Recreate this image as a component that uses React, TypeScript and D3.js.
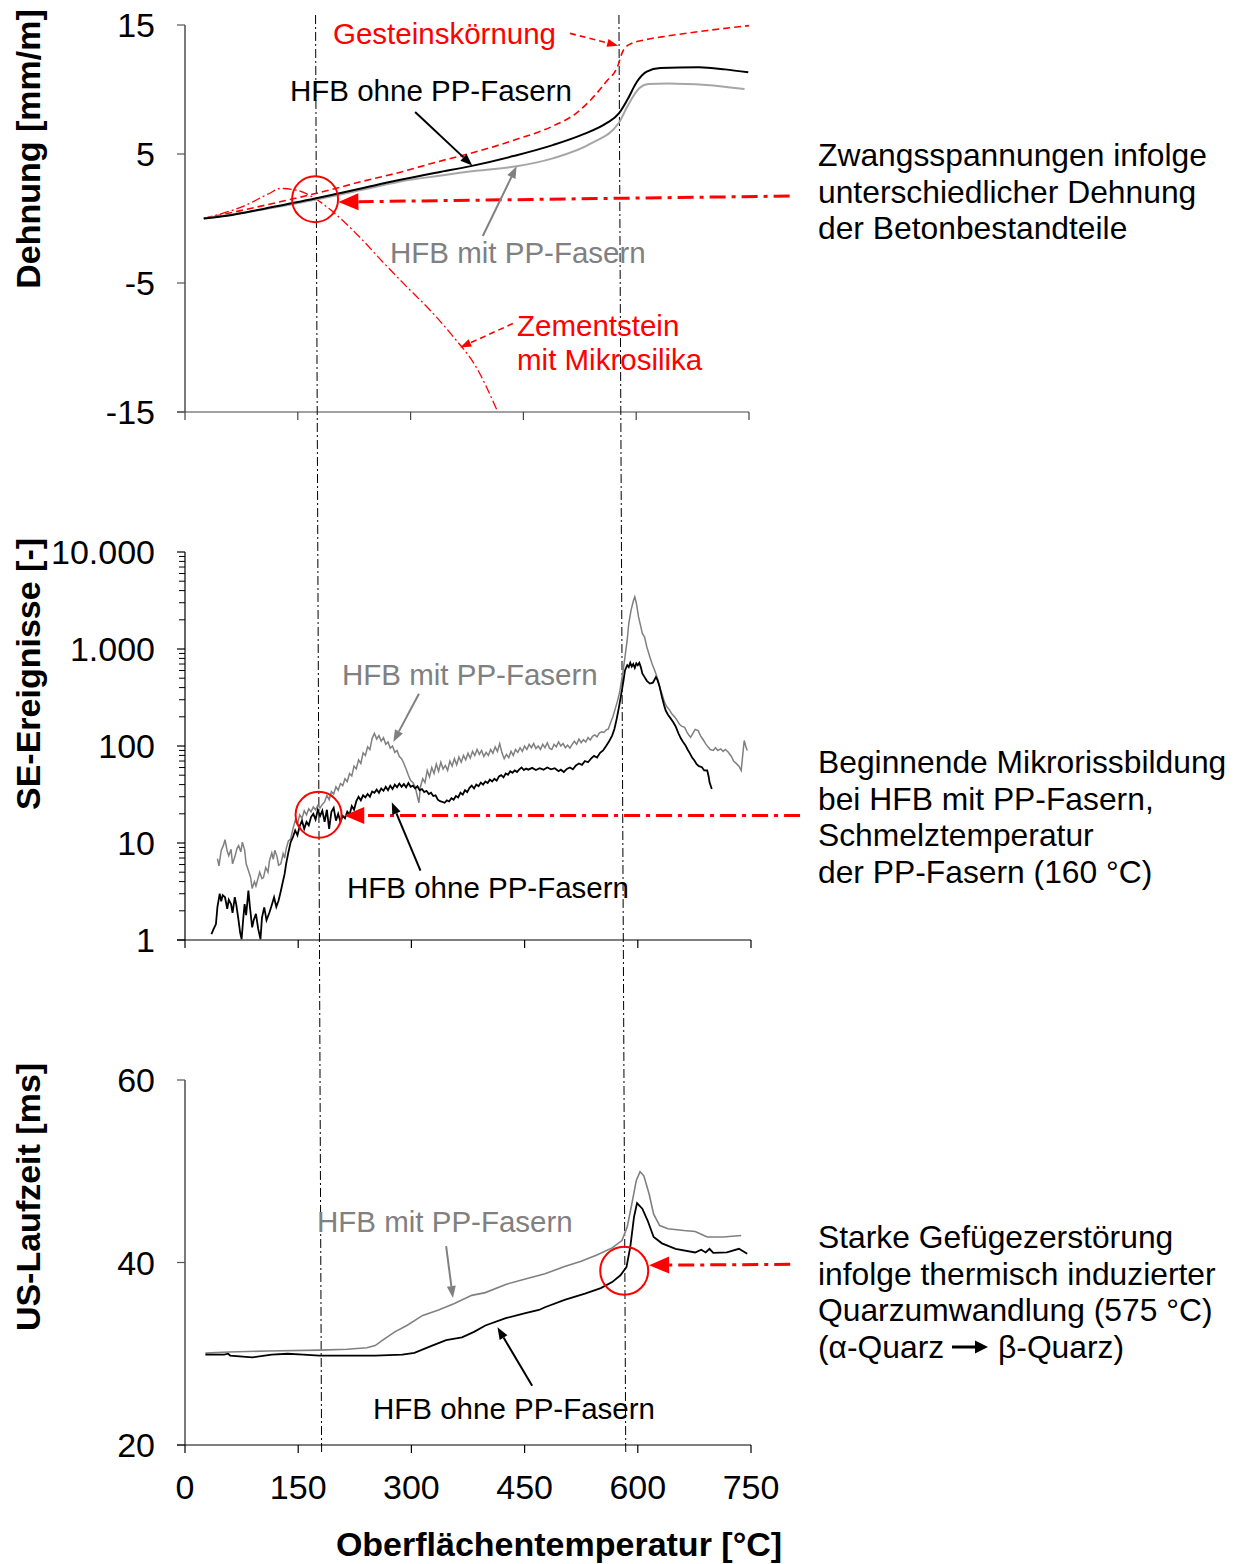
import React from "react";
import * as d3 from "d3";

type P = [number, number];

// ---------- Panel 1: Dehnung [mm/m] ----------
const dehnOhne: P[] = [
  [25, 0.0], [56, 0.21], [107, 0.78], [173, 1.55], [234, 2.33], [285, 2.98], [336, 3.57], [380, 4.06],
  [438, 4.86], [489, 5.69], [530, 6.54], [560, 7.37], [577, 8.15], [588, 9.18], [601, 10.6], [614, 11.38],
  [632, 11.66], [683, 11.72], [718, 11.56], [749, 11.33],
];
const dehnMit: P[] = [
  [25, 0.0], [107, 0.73], [173, 1.45], [234, 2.2], [285, 2.85], [336, 3.3], [387, 3.7], [441, 4.05],
  [489, 4.66], [540, 5.82], [577, 7.42], [588, 8.66], [604, 10.09], [616, 10.42], [642, 10.47], [693, 10.35],
  [744, 10.03],
];
const gesteinskoernung: P[] = [
  [25, 0.0], [81, 0.7], [132, 1.37], [183, 2.07], [234, 2.85], [285, 3.57], [336, 4.4], [387, 5.17],
  [438, 6.08], [489, 7.16], [520, 8.15], [540, 9.23], [560, 10.6], [576, 11.9], [581, 12.8], [591, 13.5],
  [611, 13.84], [642, 14.15], [693, 14.56], [750, 14.95],
];
const zementstein: P[] = [
  [25, 0.0], [81, 1.04], [112, 1.94], [127, 2.33], [148, 2.2], [173, 1.55], [194, 0.65], [214, -0.39],
  [234, -1.55], [265, -3.49], [295, -5.3], [326, -7.11], [357, -9.18], [387, -11.5], [415, -14.87],
];

// ---------- Panel 2: SE-Ereignisse [-] ----------
const seMit: P[] = [
  [43, 6.9], [45, 5.8], [48, 8.4], [51, 9.5], [53, 10.8], [56, 8.2], [58, 7.4], [61, 8.6], [63, 6.1],
  [66, 7.2], [69, 8.8], [71, 9.4], [74, 8.1], [76, 10.2], [79, 8.5], [81, 6.1], [84, 5.2], [87, 4.4],
  [89, 3.4], [92, 4.0], [94, 3.6], [96, 4.1], [99, 5.0], [102, 4.3], [104, 4.4], [107, 5.6], [110, 5.0],
  [112, 6.6], [115, 7.9], [117, 6.8], [119, 8.4], [122, 7.2], [124, 5.9], [127, 6.1], [130, 7.8], [132, 7.0],
  [134, 8.7], [137, 10.5], [140, 11], [143, 14], [146, 17], [149, 15.5], [152, 19.5], [155, 18], [158, 21.5],
  [161, 19.5], [164, 22.5], [167, 21], [170, 23.5], [173, 22], [176, 24.5], [179, 23], [182, 25], [185, 26.5],
  [188, 31], [191, 28], [194, 34], [197, 32], [200, 38], [203, 35], [206, 41], [209, 39], [212, 46],
  [215, 43], [218, 52], [221, 49], [224, 62], [227, 58], [230, 72], [233, 66], [236, 85], [239, 80],
  [242, 98], [245, 92], [248, 120], [251, 135], [254, 118], [257, 128], [260, 112], [263, 122], [266, 104],
  [269, 110], [272, 95], [275, 100], [278, 86], [281, 90], [284, 78], [287, 74], [290, 66], [293, 58],
  [296, 50], [299, 44], [302, 42], [305, 38], [308, 30], [310, 26], [312, 38], [315, 46], [318, 42],
  [321, 56], [324, 48], [327, 60], [330, 52], [333, 65], [336, 55], [339, 68], [342, 58], [345, 63],
  [348, 56], [351, 70], [354, 62], [357, 74], [360, 64], [363, 77], [366, 68], [369, 80], [372, 72],
  [375, 84], [378, 75], [381, 88], [384, 80], [387, 92], [390, 82], [393, 90], [396, 78], [399, 86],
  [402, 80], [405, 92], [408, 84], [411, 98], [414, 88], [417, 106], [420, 85], [423, 74], [426, 82],
  [429, 76], [432, 88], [435, 80], [438, 92], [441, 86], [444, 96], [447, 88], [450, 100], [453, 92],
  [456, 104], [459, 96], [462, 106], [465, 94], [468, 100], [471, 92], [474, 104], [477, 96], [480, 108],
  [483, 95], [486, 92], [489, 104], [492, 98], [495, 110], [498, 100], [501, 106], [504, 96], [507, 102],
  [510, 95], [513, 104], [516, 112], [519, 104], [522, 118], [525, 108], [528, 116], [531, 110], [534, 122],
  [537, 115], [540, 126], [543, 130], [546, 124], [549, 136], [552, 140], [555, 138], [558, 146], [561, 150],
  [564, 175], [567, 200], [570, 240], [573, 290], [576, 360], [580, 560], [583, 826], [586, 1250],
  [588, 1820], [591, 2500], [594, 3100], [596, 3440], [598, 3000], [601, 2140], [604, 1700], [606, 1450],
  [609, 1330], [612, 1050], [614, 930], [616, 826], [619, 700], [621, 640], [624, 556], [627, 470],
  [630, 380], [632, 345], [635, 290], [637, 265], [639, 251], [642, 236], [645, 215], [649, 199], [652, 185],
  [655, 168], [658, 160], [662, 156], [665, 140], [668, 128], [670, 123], [673, 135], [676, 148], [680, 144],
  [683, 128], [686, 118], [690, 105], [693, 98], [696, 92], [700, 89.9], [703, 96], [706, 90], [710, 93.4],
  [713, 88], [716, 92], [720, 86.3], [724, 78], [727, 70], [731, 65.4], [734, 62], [737, 55.9], [739, 80],
  [741, 114], [743, 100], [745, 89.9],
];
const seOhne: P[] = [
  [35, 1.15], [38, 1.3], [41, 1.46], [43, 2.2], [46, 3.0], [48, 2.5], [50, 2.9], [53, 2.76], [56, 2.1],
  [58, 2.6], [61, 2.35], [63, 1.9], [66, 2.76], [68, 2.3], [71, 1.58], [73, 1.2], [75, 1.02], [77, 1.6],
  [79, 2.35], [81, 1.8], [84, 3.23], [86, 2.2], [89, 1.35], [91, 1.6], [94, 1.86], [97, 1.3], [100, 1.02],
  [102, 1.7], [105, 2.17], [108, 1.6], [112, 1.93], [115, 2.3], [118, 2.76], [121, 2.2], [124, 2.55],
  [127, 3.2], [129, 3.78], [132, 4.8], [134, 6.1], [137, 8.0], [140, 10.2], [143, 11.5], [146, 13.5],
  [149, 12], [152, 15], [155, 17], [158, 14], [161, 16.5], [164, 15.2], [167, 18.5], [170, 20], [173, 17.5],
  [176, 22], [179, 19], [182, 21.5], [185, 16.5], [188, 22], [191, 14], [194, 21], [197, 23], [200, 17],
  [203, 20], [206, 16.5], [209, 19], [212, 18], [215, 21], [218, 19.5], [221, 24], [224, 22], [227, 27],
  [230, 30], [233, 27.5], [236, 31], [239, 29.5], [242, 32], [245, 30], [248, 34], [251, 33], [254, 35.5],
  [257, 33], [260, 36.5], [263, 34.5], [266, 38], [269, 35], [272, 39], [275, 36], [278, 40], [281, 37.5],
  [284, 41], [287, 38], [290, 40.5], [293, 37.5], [296, 41.5], [299, 38], [302, 39], [305, 36.5], [308, 38.5],
  [311, 35], [314, 36], [317, 33.5], [320, 34.5], [323, 32], [326, 33], [329, 30.5], [332, 31], [335, 28],
  [338, 27], [341, 26.5], [344, 26], [347, 27.5], [350, 26.8], [353, 29], [356, 28], [359, 30.5], [362, 29.5],
  [365, 33], [368, 31.5], [371, 35], [374, 33.5], [377, 37], [380, 39], [383, 36.5], [386, 40], [389, 38.5],
  [392, 42], [395, 40], [398, 43], [401, 41.5], [404, 45], [407, 43], [410, 46], [413, 44], [416, 48.5],
  [419, 50], [422, 47.5], [425, 52], [428, 50.5], [431, 55], [434, 53], [437, 56], [440, 54], [443, 57.5],
  [446, 60], [449, 56.5], [452, 58.5], [455, 57], [460, 59.5], [465, 56.5], [470, 59], [475, 57], [480, 60],
  [485, 57.5], [490, 59], [495, 55], [498, 57], [502, 54], [506, 58], [510, 60], [514, 57.5], [518, 63],
  [522, 66], [526, 64], [530, 70], [534, 68], [538, 74], [542, 79], [546, 76], [550, 85], [554, 90],
  [558, 100], [562, 112], [566, 128], [569, 150], [572, 190], [575, 250], [578, 340], [581, 470], [583, 601],
  [586, 680], [588, 650], [590, 720], [592, 660], [594, 700], [596, 640], [598, 710], [600, 680], [602, 720],
  [604, 651], [606, 560], [609, 513], [612, 470], [616, 440], [620, 450], [624, 513], [626, 480], [629, 405],
  [632, 320], [635, 260], [637, 232], [640, 210], [643, 195], [647, 176], [650, 160], [654, 134], [657, 120],
  [660, 110], [663, 102], [666, 92], [669, 84], [672, 76], [675, 70.8], [678, 65], [681, 62], [685, 60.5],
  [688, 56], [692, 55.9], [694, 48], [695, 42.4], [698, 36.1],
];

// ---------- Panel 3: US-Laufzeit [ms] ----------
const usMit: P[] = [
  [27, 30.07], [58, 30.2], [110, 30.3], [178, 30.4], [215, 30.5], [241, 30.66], [252, 30.9], [262, 31.5],
  [278, 32.4], [294, 33.1], [315, 34.2], [336, 34.8], [357, 35.5], [380, 36.4], [398, 36.7], [425, 37.6],
  [451, 38.2], [477, 38.76], [503, 39.56], [524, 40.1], [545, 40.8], [566, 41.6], [579, 42.4], [586, 43.9],
  [593, 46.8], [598, 49], [603, 49.96], [608, 49.5], [615, 47.5], [621, 45.3], [629, 44.05], [640, 43.7],
  [661, 43.5], [676, 43.4], [684, 43.1], [692, 42.8], [713, 42.8], [737, 42.96],
];
const usOhne: P[] = [
  [27, 29.9], [52, 29.9], [57, 30.0], [60, 29.8], [89, 29.6], [115, 29.9], [136, 30.0], [157, 29.9],
  [178, 29.8], [215, 29.8], [252, 29.8], [288, 29.9], [304, 30.1], [325, 30.8], [346, 31.5], [367, 31.8],
  [383, 32.4], [398, 33.1], [425, 33.9], [451, 34.45], [469, 34.8], [477, 35.1], [503, 35.9], [530, 36.6],
  [551, 37.2], [566, 37.85], [577, 38.6], [585, 39.5], [590, 41.7], [595, 45], [599, 46.5], [606, 45.9],
  [613, 44.6], [621, 42.8], [632, 42.1], [650, 41.5], [676, 41.1], [684, 41.4], [690, 41.1], [695, 41.5],
  [700, 41.05], [718, 41.1], [734, 41.5], [745, 40.95],
];

// ---------- ticks / labels ----------
const xTicks = [0, 150, 300, 450, 600, 750];
const y1Ticks = [15, 5, -5, -15];
const y2Ticks = [1, 10, 100, 1000, 10000];
const y2Labels = ["1", "10", "100", "1.000", "10.000"];
const y3Ticks = [20, 40, 60];

// reference lines (temperature at top / bottom of figure)
const refLines = [
  { top: 173, bottom: 181 },
  { top: 575, bottom: 584 },
];

const FONT = "'Liberation Sans', Arial, Helvetica, sans-serif";
const RED = "#ff0000";
const GRAY = "#808080";

function Arrow(props: {
  x1: number; y1: number; x2: number; y2: number; color: string; width?: number;
  dash?: string; head?: number; headW?: number;
}) {
  const { x1, y1, x2, y2, color, width = 2, dash, head = 12, headW = 9 } = props;
  const ang = Math.atan2(y2 - y1, x2 - x1);
  const bx = x2 - head * Math.cos(ang);
  const by = y2 - head * Math.sin(ang);
  const px = (-Math.sin(ang) * headW) / 2;
  const py = (Math.cos(ang) * headW) / 2;
  return (
    <g>
      <line x1={x1} y1={y1} x2={bx} y2={by} stroke={color} strokeWidth={width} strokeDasharray={dash} />
      <polygon points={`${x2},${y2} ${bx + px},${by + py} ${bx - px},${by - py}`} fill={color} />
    </g>
  );
}

export default function App() {
  const x1 = d3.scaleLinear().domain([0, 750]).range([185, 749]);
  const x2 = d3.scaleLinear().domain([0, 750]).range([185, 751]);
  const x3 = d3.scaleLinear().domain([0, 750]).range([185, 751]);
  const y1 = d3.scaleLinear().domain([-15, 15]).range([412, 25]);
  const y2 = d3.scaleLog().domain([1, 10000]).range([940, 552]);
  const y3 = d3.scaleLinear().domain([20, 60]).range([1445, 1080]);

  const l1 = d3.line<P>().x((d) => x1(d[0])).y((d) => y1(d[1])).curve(d3.curveMonotoneX);
  const l2 = d3.line<P>().x((d) => x2(d[0])).y((d) => y2(d[1]));
  const l3 = d3.line<P>().x((d) => x3(d[0])).y((d) => y3(d[1]));

  const tickFs = 34;
  const labFs = 29.5;
  const noteFs = 31.8;

  const minor2: number[] = [];
  for (let dec = 1; dec < 10000; dec *= 10) for (let m = 2; m <= 9; m++) minor2.push(dec * m);

  const xAxis = (xs: d3.ScaleLinear<number, number>, y: number, color: string) => (
    <g>
      <line x1={xs(0) - 8} x2={xs(750)} y1={y} y2={y} stroke={color} strokeWidth={1.2} />
      {xTicks.map((t) => (
        <line key={t} x1={xs(t)} x2={xs(t)} y1={y} y2={y + 8} stroke={color} strokeWidth={1.2} />
      ))}
    </g>
  );

  const noteBlock = (lines: string[], y0: number) =>
    lines.map((s, i) => (
      <text key={s} x={818} y={y0 + i * 36.7} fontSize={noteFs} fill="#000">{s}</text>
    ));

  return (
    <svg width={1241} height={1564} style={{ position: "absolute", left: 0, top: 0, background: "#fff" }}
      fontFamily={FONT}>
      <rect x={0} y={0} width={1241} height={1564} fill="#fff" />

      {/* ===== Axis titles ===== */}
      <text transform="translate(40,149) rotate(-90)" textAnchor="middle" fontSize={34} fontWeight="bold">Dehnung [mm/m]</text>
      <text transform="translate(40,674) rotate(-90)" textAnchor="middle" fontSize={34} fontWeight="bold">SE-Ereignisse [-]</text>
      <text transform="translate(40,1197) rotate(-90)" textAnchor="middle" fontSize={34} fontWeight="bold">US-Laufzeit [ms]</text>
      <text x={559} y={1556} textAnchor="middle" fontSize={34} fontWeight="bold">Oberflächentemperatur [°C]</text>

      {/* ===== Panel 1 axes ===== */}
      <line x1={x1(0)} x2={x1(0)} y1={y1(15)} y2={y1(-15)} stroke="#7a7a7a" strokeWidth={2} />
      {y1Ticks.map((t) => (
        <g key={t}>
          <line x1={x1(0) - 8} x2={x1(0)} y1={y1(t)} y2={y1(t)} stroke="#555" strokeWidth={1.2} />
          <text x={155} y={y1(t) + 12} textAnchor="end" fontSize={tickFs}>{t}</text>
        </g>
      ))}
      {xAxis(x1, y1(-15), "#444")}

      {/* ===== Panel 2 axes ===== */}
      <line x1={x2(0)} x2={x2(0)} y1={y2(10000)} y2={y2(1)} stroke="#000" strokeWidth={1.2} />
      {minor2.map((t) => (
        <line key={t} x1={x2(0) - 6} x2={x2(0)} y1={y2(t)} y2={y2(t)} stroke="#000" strokeWidth={1} />
      ))}
      {y2Ticks.map((t, i) => (
        <g key={t}>
          <line x1={x2(0) - 8} x2={x2(0)} y1={y2(t)} y2={y2(t)} stroke="#000" strokeWidth={1.2} />
          <text x={155} y={y2(t) + 12} textAnchor="end" fontSize={tickFs}>{y2Labels[i]}</text>
        </g>
      ))}
      {xAxis(x2, y2(1), "#000")}

      {/* ===== Panel 3 axes ===== */}
      <line x1={x3(0)} x2={x3(0)} y1={y3(60)} y2={y3(20)} stroke="#7a7a7a" strokeWidth={2} />
      {y3Ticks.map((t) => (
        <g key={t}>
          <line x1={x3(0) - 8} x2={x3(0)} y1={y3(t)} y2={y3(t)} stroke="#555" strokeWidth={1.2} />
          <text x={155} y={y3(t) + 12} textAnchor="end" fontSize={tickFs}>{t}</text>
        </g>
      ))}
      {xAxis(x3, y3(20), "#000")}
      {xTicks.map((t) => (
        <text key={t} x={x3(t)} y={1499} textAnchor="middle" fontSize={tickFs}>{t}</text>
      ))}

      {/* ===== Reference vertical dash-dot lines ===== */}
      {refLines.map((r, i) => (
        <line key={i} x1={x3(r.top)} y1={15} x2={x3(r.bottom)} y2={1452} stroke="#000" strokeWidth={1}
          strokeDasharray="9,3,2,3" />
      ))}

      {/* ===== Panel 1 curves ===== */}
      <path d={l1(zementstein) || ""} fill="none" stroke={RED} strokeWidth={1.3} strokeDasharray="9,3,2,3" />
      <path d={l1(gesteinskoernung) || ""} fill="none" stroke={RED} strokeWidth={1.6} strokeDasharray="7,4" />
      <path d={l1(dehnMit) || ""} fill="none" stroke="#a6a6a6" strokeWidth={2} />
      <path d={l1(dehnOhne) || ""} fill="none" stroke="#000" strokeWidth={2} />

      <circle cx={x1(173)} cy={y1(1.5)} r={23} fill="none" stroke={RED} strokeWidth={2} />
      <Arrow x1={x1(804)} y1={y1(1.74)} x2={x1(204)} y2={y1(1.28)} color={RED} width={3}
        dash="16,6,4,6" head={20} headW={17} />

      <text x={333} y={44} fontSize={labFs} fill={RED}>Gesteinskörnung</text>
      <Arrow x1={x1(512)} y1={y1(14.35)} x2={x1(576)} y2={y1(13.4)} color={RED} width={1.6} dash="6,4" head={11} headW={8} />
      <text x={290} y={101} fontSize={labFs} fill="#000">HFB ohne PP-Fasern</text>
      <Arrow x1={x1(306)} y1={y1(8.26)} x2={x1(382)} y2={y1(4.1)} color="#000" width={2} head={12} headW={9} />
      <text x={390} y={263} fontSize={labFs} fill={GRAY}>HFB mit PP-Fasern</text>
      <Arrow x1={x1(396)} y1={y1(-1.36)} x2={x1(441)} y2={y1(4.05)} color={GRAY} width={2} head={12} headW={9} />
      <text x={517} y={336} fontSize={labFs} fill={RED}>Zementstein</text>
      <text x={517} y={370} fontSize={labFs} fill={RED}>mit Mikrosilika</text>
      <Arrow x1={x1(436)} y1={y1(-8.14)} x2={x1(366)} y2={y1(-10.0)} color={RED} width={1.6} dash="6,4" head={11} headW={8} />

      {/* ===== Panel 2 curves ===== */}
      <path d={l2(seMit) || ""} fill="none" stroke={GRAY} strokeWidth={1.5} />
      <path d={l2(seOhne) || ""} fill="none" stroke="#000" strokeWidth={1.8} />
      <circle cx={x2(177)} cy={y2(19.5)} r={23} fill="none" stroke={RED} strokeWidth={2} />
      <Arrow x1={x2(815)} y1={y2(19.2)} x2={x2(211)} y2={y2(19.2)} color={RED} width={3}
        dash="16,6,4,6" head={20} headW={17} />
      <text x={342} y={685} fontSize={labFs} fill={GRAY}>HFB mit PP-Fasern</text>
      <Arrow x1={x2(310)} y1={y2(345)} x2={x2(276)} y2={y2(110)} color={GRAY} width={2} head={12} headW={9} />
      <text x={347} y={898} fontSize={labFs} fill="#000">HFB ohne PP-Fasern</text>
      <Arrow x1={x2(312)} y1={y2(5.2)} x2={x2(274)} y2={y2(26.3)} color="#000" width={2} head={12} headW={9} />

      {/* ===== Panel 3 curves ===== */}
      <path d={l3(usMit) || ""} fill="none" stroke={GRAY} strokeWidth={1.6} />
      <path d={l3(usOhne) || ""} fill="none" stroke="#000" strokeWidth={1.8} />
      <circle cx={x3(582)} cy={y3(39.1)} r={24} fill="none" stroke={RED} strokeWidth={2} />
      <Arrow x1={x3(802)} y1={y3(39.8)} x2={x3(615)} y2={y3(39.7)} color={RED} width={3}
        dash="16,6,4,6" head={20} headW={17} />
      <text x={317} y={1232} fontSize={labFs} fill={GRAY}>HFB mit PP-Fasern</text>
      <Arrow x1={x3(346)} y1={y3(41.8)} x2={x3(355)} y2={y3(36.1)} color={GRAY} width={2} head={12} headW={9} />
      <text x={373} y={1419} fontSize={labFs} fill="#000">HFB ohne PP-Fasern</text>
      <Arrow x1={x3(460)} y1={y3(26.5)} x2={x3(414)} y2={y3(32.9)} color="#000" width={2} head={12} headW={9} />

      {/* ===== Right annotation blocks ===== */}
      {noteBlock(["Zwangsspannungen infolge", "unterschiedlicher Dehnung", "der Betonbestandteile"], 166)}
      {noteBlock(["Beginnende Mikrorissbildung", "bei HFB mit PP-Fasern,", "Schmelztemperatur", "der PP-Fasern (160 °C)"], 773)}
      {noteBlock(["Starke Gefügezerstörung", "infolge thermisch induzierter", "Quarzumwandlung (575 °C)"], 1248)}
      <text x={818} y={1358} fontSize={noteFs}>(α-Quarz</text>
      <Arrow x1={952} y1={1347} x2={988} y2={1347} color="#000" width={3} head={13} headW={13} />
      <text x={998} y={1358} fontSize={noteFs}>β-Quarz)</text>
    </svg>
  );
}
